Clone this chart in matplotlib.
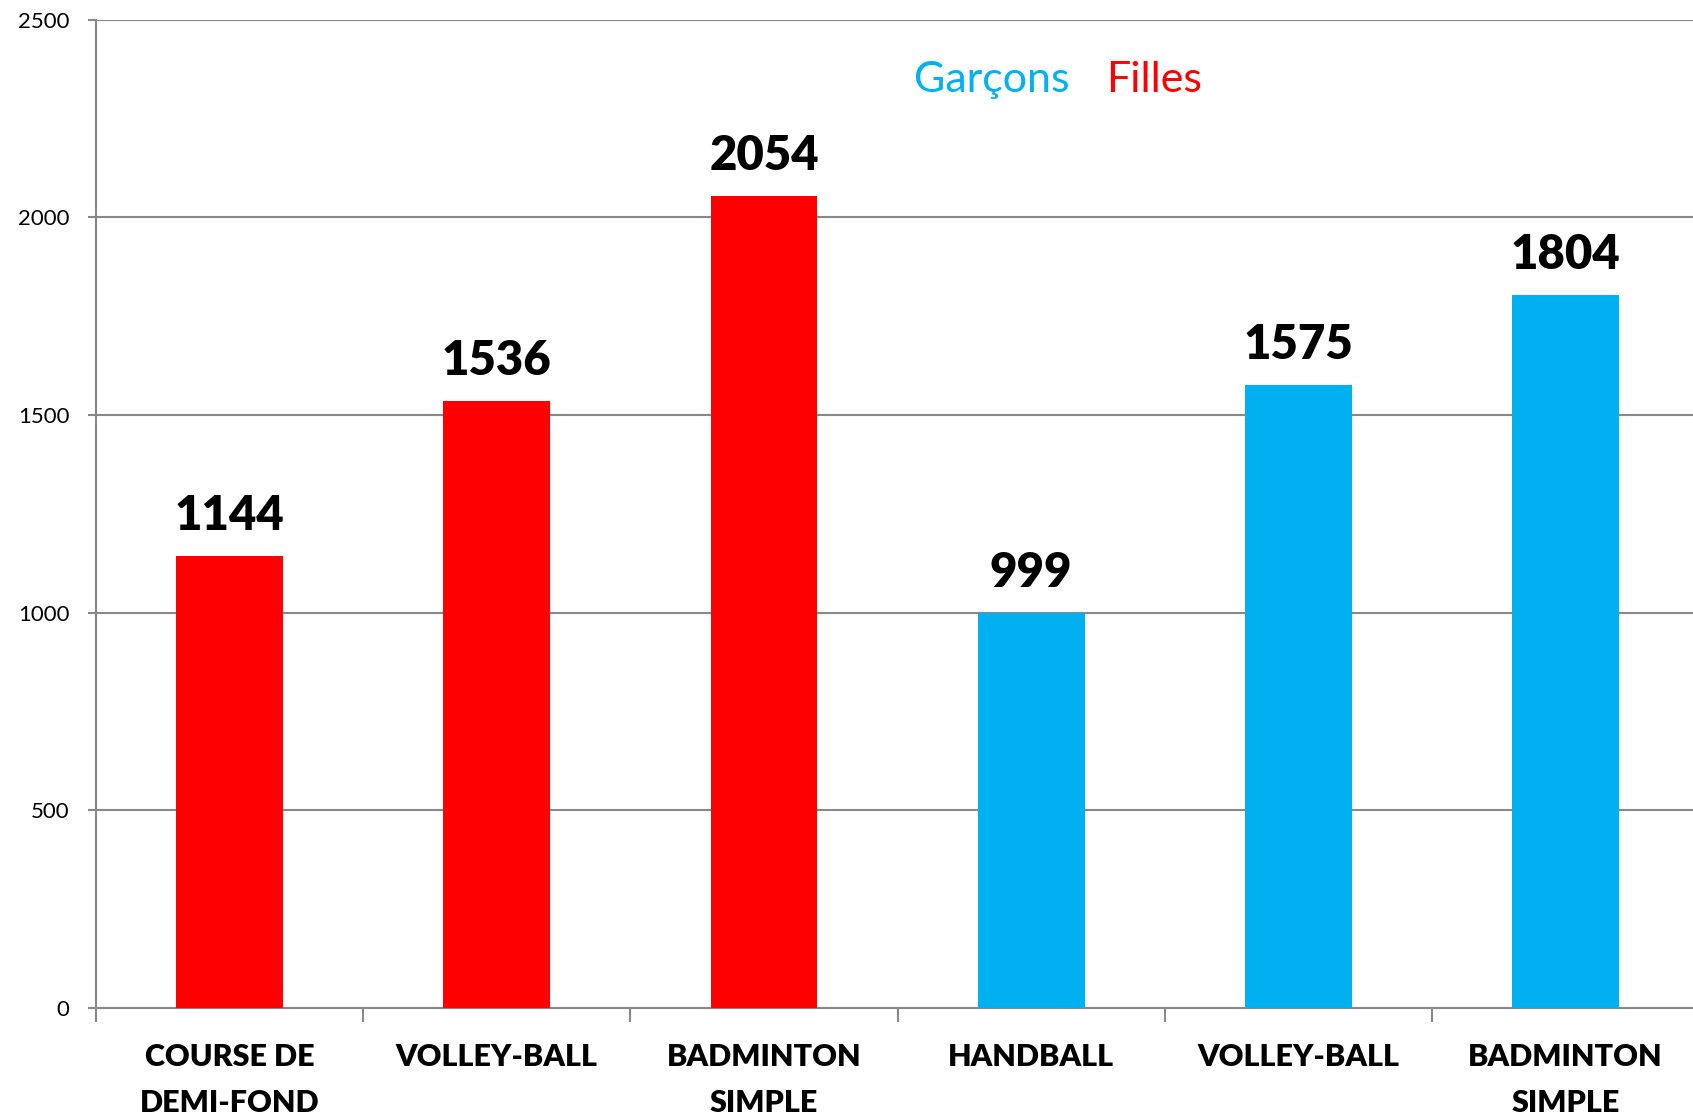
import matplotlib.pyplot as plt
import numpy as np

# Data
categories = ["COURSE DE\nDEMI-FOND", "VOLLEY-BALL", "BADMINTON\nSIMPLE",
              "HANDBALL", "VOLLEY-BALL", "BADMINTON\nSIMPLE"]
values = [1144, 1536, 2054, 999, 1575, 1804]
groups = ["Filles", "Filles", "Filles", "Garçons", "Garçons", "Garçons"]

group_colors = {"Filles": "#FF0000", "Garçons": "#00B0F0"}
y_ticks = [0, 500, 1000, 1500, 2000, 2500]

plt.rcParams['font.family'] = ['Lato', 'DejaVu Sans']

fig = plt.figure(figsize=(16.93, 11.16), dpi=100)
ax = fig.add_axes([0.0567, 0.0968, 0.947, 0.8857])

x = np.arange(len(categories))
colors = [group_colors[g] for g in groups]
bars = ax.bar(x, values, width=0.4, color=colors, zorder=3)

# Value labels above the bars
for xi, v in zip(x, values):
    ax.annotate(str(v), (xi, v), xytext=(0, 13), textcoords="offset points",
                ha="center", va="bottom", fontsize=34, fontweight="heavy")

ax.set_xlim(-0.5, len(categories) - 0.5)
ax.set_ylim(0, 2500)
ax.set_yticks(y_ticks)
ax.set_yticklabels([str(t) for t in y_ticks], fontsize=16)
ax.yaxis.grid(True, color="#888888", linewidth=1.5, zorder=0)

ax.set_xticks(x)
ax.set_xticklabels(categories, fontsize=22, fontweight="heavy", linespacing=1.8)
ax.tick_params(axis="x", length=0, pad=25)
ax.set_xticks(np.arange(-0.5, len(categories) - 0.5, 1.0), minor=True)
ax.tick_params(axis="x", which="minor", length=10, width=1.5, color="#888888")
ax.tick_params(axis="y", length=6, width=1.5, color="#888888", pad=13)

for side in ["top", "right"]:
    ax.spines[side].set_visible(False)
for side in ["left", "bottom"]:
    ax.spines[side].set_color("#888888")
    ax.spines[side].set_linewidth(1.5)

# Legend as coloured words
fig.text(0.540, 0.918, "Garçons", color=group_colors["Garçons"], fontsize=31)
fig.text(0.6535, 0.918, "Filles", color=group_colors["Filles"], fontsize=31)

fig.savefig("out.png", dpi=100)
